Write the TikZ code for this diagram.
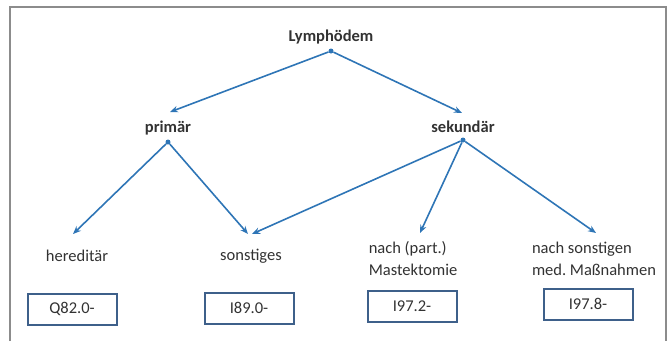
\documentclass[tikz,border=0pt]{standalone}
\usepackage{fontspec}
\setmainfont{Carlito}
\usetikzlibrary{arrows.meta}
\definecolor{arrowblue}{RGB}{46,117,182}
\definecolor{boxblue}{RGB}{62,96,138}
\definecolor{txt}{RGB}{50,50,50}
\definecolor{framegray}{RGB}{140,140,140}
\frenchspacing
\begin{document}
\begin{tikzpicture}[x=1pt,y=-1pt,
  lbl/.style={text=txt,font=\fontsize{16.5}{22}\selectfont,inner sep=0pt,align=left},
  head/.style={text=txt,font=\fontsize{16.5}{19}\selectfont\bfseries,inner sep=0pt},
  code/.style={draw=boxblue,line width=2pt,text=txt,font=\fontsize{16.5}{19}\selectfont,minimum width=89pt,minimum height=31pt,inner sep=0pt},
  conn/.style={draw=arrowblue,line width=1.6pt,-{Stealth[length=8pt,width=6.5pt]}},
  dot/.style={fill=arrowblue,circle,inner sep=0pt,minimum size=5pt}]
\useasboundingbox (0,0) rectangle (667,341);
\draw[framegray,line width=2pt] (10,341) -- (10,7) -- (666,7) -- (666,341);
% headings
\node[head] (lym) at (331,37) {Lymphödem};
\node[head] (pri) at (168,128) {primär};
\node[head] (sek) at (463,127) {sekundär};
% dots
\node[dot] (lymd) at (331,51) {};
\node[dot] (prid) at (168,142) {};
\node[dot] (sekd) at (463,140) {};
% leaves
\node[lbl] (her) at (77,256) {hereditär};
\node[lbl] (son) at (251,256) {sonstiges};
\node[lbl] (mas) at (413,259) {nach (part.)\\Mastektomie};
\node[lbl] (mas2) at (594,259) {nach sonstigen\\med. Maßnahmen};
% arrow end points
\coordinate (priA) at (170,112);
\coordinate (sekA) at (462,113);
\coordinate (herA) at (73,234);
\coordinate (sonA) at (248,234);
\coordinate (sonB) at (252,234);
\coordinate (masA) at (420,233);
\coordinate (mas2A) at (596,233);
% boxes
\node[code] (q82) at (72,309) {Q82.0-};
\node[code] (i89) at (249,308) {I89.0-};
\node[code] (i972) at (412,306) {I97.2-};
\node[code] (i978) at (588,304) {I97.8-};
% connectors
\draw[conn] (lymd) -- (priA);
\draw[conn] (lymd) -- (sekA);
\draw[conn] (prid) -- (herA);
\draw[conn] (prid) -- (sonA);
\draw[conn] (sekd) -- (sonB);
\draw[conn] (sekd) -- (masA);
\draw[conn] (sekd) -- (mas2A);
\end{tikzpicture}
\end{document}
